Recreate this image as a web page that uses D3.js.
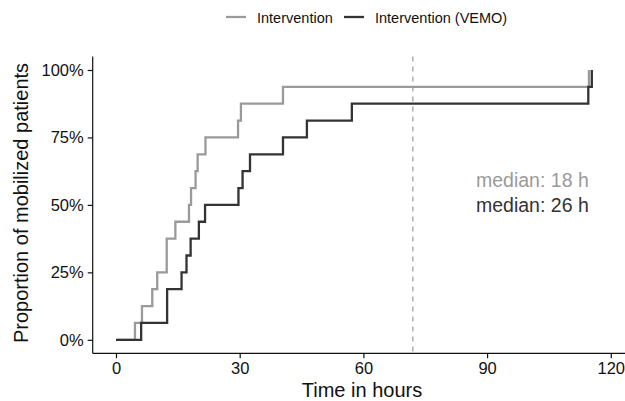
<!DOCTYPE html>
<html>
<head>
<meta charset="utf-8">
<script src="https://cdn.jsdelivr.net/npm/d3@7"></script>
<style>
  body { margin: 0; background: #fff; }
  svg { font-family: "Liberation Sans", Arial, sans-serif; }
</style>
</head>
<body>
<svg id="chart" width="625" height="401"></svg>
<script>
// groups + colours
const groups = ["Intervention", "Intervention (VEMO)"]
const colors = ["#9a9a9a", "#333333"]

// step points (hours, cumulative %)
const interventionTime = [0, 4.6, 6.3, 8.8, 10.0, 12.3, 14.4, 17.7, 18.2, 19.3, 19.8, 21.7, 29.6, 30.3, 40.5, 114.7]
const interventionPct = [0, 6.25, 12.5, 18.75, 25, 37.5, 43.75, 50, 56.25, 62.5, 68.75, 75, 81.25, 87.5, 93.75, 100]
const vemoTime = [0, 6.1, 12.4, 15.9, 17.1, 18.1, 20.1, 21.6, 29.7, 30.7, 32.5, 40.5, 46.3, 57.2, 114.55, 115.4]
const vemoPct = [0, 6.25, 18.75, 25, 31.25, 37.5, 43.75, 50, 56.25, 62.5, 68.75, 75, 81.25, 87.5, 93.75, 100]

const xTicks = [0, 30, 60, 90, 120]
const yTicks = [0, 25, 50, 75, 100]
const cutoff = 72
const medianLabels = ["median: 18 h", "median: 26 h"]

const series = [
    interventionTime.map((t, i) => ({ t: t, p: interventionPct[i] })),
    vemoTime.map((t, i) => ({ t: t, p: vemoPct[i] }))
]

const MARGIN = { LEFT: 92.7, RIGHT: 0, TOP: 56.5, BOTTOM: 47.7 }
const W = 625, H = 401

const svg = d3.select("#chart")

// scales
const x = d3.scaleLinear().domain([-5.65, 123.45]).range([MARGIN.LEFT, W - MARGIN.RIGHT])
const y = d3.scaleLinear().domain([-5, 105]).range([H - MARGIN.BOTTOM, MARGIN.TOP])

// dashed 72 h line
svg.append("line")
    .attr("x1", x(cutoff)).attr("x2", x(cutoff))
    .attr("y1", y(105)).attr("y2", y(-5))
    .attr("stroke", "#9a9a9a")
    .attr("stroke-width", 1.2)
    .attr("stroke-dasharray", "5,5")

// curves
const line = d3.line()
    .x(d => x(d.t))
    .y(d => y(d.p))
    .curve(d3.curveStepAfter)

svg.selectAll(".km")
    .data(series)
    .enter().append("path")
    .attr("class", "km")
    .attr("fill", "none")
    .attr("stroke", (d, i) => colors[i])
    .attr("stroke-width", 2.3)
    .attr("d", d => line(d))

// axes
const xAxis = svg.append("g")
    .attr("transform", `translate(0, ${H - MARGIN.BOTTOM})`)
    .call(d3.axisBottom(x).tickValues(xTicks).tickSize(5).tickPadding(4))
const yAxis = svg.append("g")
    .attr("transform", `translate(${MARGIN.LEFT}, 0)`)
    .call(d3.axisLeft(y).tickValues(yTicks).tickSize(5).tickPadding(4).tickFormat(d => d + "%"))

xAxis.select(".domain").attr("d", `M${MARGIN.LEFT},0H${W}`)
yAxis.select(".domain").attr("d", `M0,${MARGIN.TOP}V${H - MARGIN.BOTTOM}`)

svg.selectAll(".domain, .tick line").attr("stroke", "#111").attr("stroke-width", 1.2)
svg.selectAll(".tick text")
    .attr("fill", "#111")
    .style("font-size", "16.5px")
    .style("font-family", "'Liberation Sans', Arial, sans-serif")

// axis titles
svg.append("text")
    .attr("x", 362).attr("y", 397)
    .attr("text-anchor", "middle")
    .attr("font-size", "20px")
    .attr("fill", "#111")
    .text("Time in hours")

svg.append("text")
    .attr("transform", "rotate(-90)")
    .attr("x", -203).attr("y", 28)
    .attr("text-anchor", "middle")
    .attr("font-size", "20px")
    .attr("fill", "#111")
    .text("Proportion of mobilized patients")

// median notes
svg.selectAll(".median")
    .data(medianLabels)
    .enter().append("text")
    .attr("class", "median")
    .attr("x", 476)
    .attr("y", (d, i) => 187 + i * 25)
    .attr("font-size", "19.5px")
    .attr("fill", (d, i) => colors[i])
    .text(d => d)

// legend
const legendX = [226, 344]
const legend = svg.selectAll(".legend")
    .data(groups)
    .enter().append("g")
    .attr("class", "legend")
    .attr("transform", (d, i) => `translate(${legendX[i]}, 17)`)
legend.append("line")
    .attr("x1", 0).attr("x2", 20)
    .attr("stroke", (d, i) => colors[i])
    .attr("stroke-width", 2.3)
legend.append("text")
    .attr("x", 31).attr("y", 6)
    .attr("font-size", "14.5px")
    .attr("fill", "#111")
    .text(d => d)
</script>
</body>
</html>
